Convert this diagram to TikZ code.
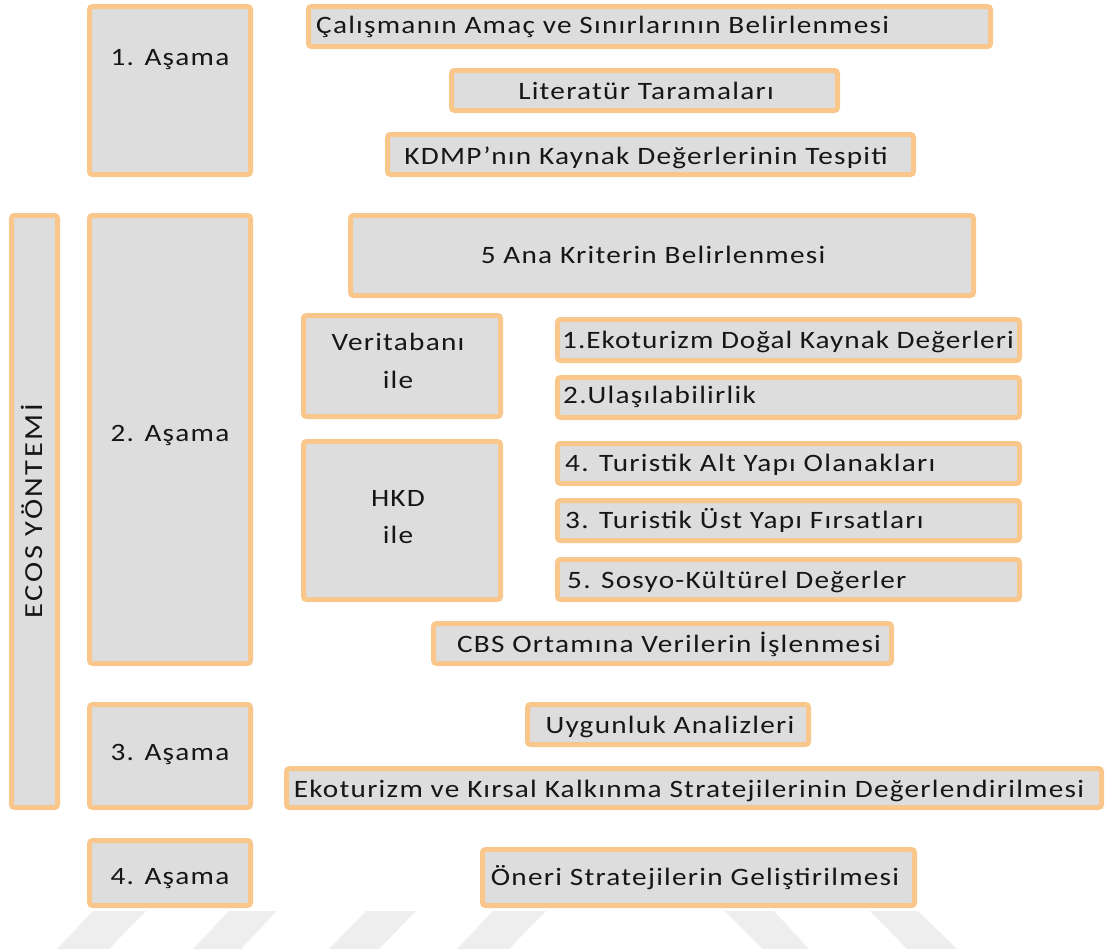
\documentclass[tikz,border=0pt]{standalone}
\usepackage{fontspec}
\setmainfont{Carlito}[FakeStretch=1.17, LetterSpace=5]
\newfontfamily\ecosfont{Carlito}[FakeStretch=1.17, LetterSpace=10]
\newfontfamily\tightfont{Carlito}[FakeStretch=1.17, LetterSpace=4]
\usetikzlibrary{fit}
\definecolor{bord}{RGB}{249,199,140}
\definecolor{boxfill}{RGB}{221,221,221}
\definecolor{wm}{RGB}{238,238,238}
\definecolor{ink}{RGB}{22,22,22}
\tikzset{
  box/.style={draw=bord, fill=boxfill, line width=5pt, rounded corners=3pt},
  txt/.style={inner sep=0pt, text=ink, font=\fontsize{25}{29}\selectfont},
  wmark/.style={fill=wm, draw=none}
}
\newcommand\bx[5]{\node[box, fit={(#2,#3)(#4,#5)}, inner sep=-2.5pt] (#1) {};}
\begin{document}
\begin{tikzpicture}[x=1pt,y=-1pt]
\useasboundingbox (0,0) rectangle (1105,951);
% watermark
\fill[wmark] (57,949) -- (109,949) -- (146,911) -- (93,911) -- cycle;
\fill[wmark] (193,949) -- (241,949) -- (277,911) -- (229,911) -- cycle;
\fill[wmark] (329,949) -- (379,949) -- (416,911) -- (366,911) -- cycle;
\fill[wmark] (457,949) -- (509,949) -- (546,911) -- (493,911) -- cycle;
\fill[wmark] (725,911) -- (774,911) -- (809,949) -- (763,949) -- cycle;
\fill[wmark] (870,911) -- (918,911) -- (957,949) -- (907,949) -- cycle;
% boxes
\bx{a1}{87}{4}{253}{177}
\bx{c1}{306}{4}{993}{49}
\bx{c2}{449}{68}{840}{113}
\bx{c3}{385}{132}{916}{177}
\bx{ecos}{9}{213}{60}{810}
\bx{a2}{87}{213}{253}{666}
\bx{k}{348}{213}{976}{298}
\bx{vt}{301}{313}{503}{419}
\bx{hkd}{301}{439}{503}{602}
\bx{k1}{555}{317}{1022}{363}
\bx{k2}{555}{375}{1022}{420}
\bx{k4}{555}{441}{1022}{486}
\bx{k3}{555}{498}{1022}{543}
\bx{k5}{555}{557}{1022}{602}
\bx{cbs}{431}{621}{894}{666}
\bx{a3}{87}{702}{253}{810}
\bx{uy}{525}{702}{811}{747}
\bx{ek}{284}{766}{1104}{810}
\bx{a4}{87}{838}{253}{908}
\bx{on}{480}{847}{917}{908}
% texts
\node[txt, anchor=base] (ta1) at (170,65) {1. Aşama};
\node[txt, anchor=base west] (tc1) at (316,33) {Çalışmanın Amaç ve Sınırlarının Belirlenmesi};
\node[txt, anchor=base] (tc2) at (646,99) {Literatür Taramaları};
\node[txt, anchor=base] (tc3) at (646,164) {KDMP’nın Kaynak Değerlerinin Tespiti};
\node[txt, anchor=base, rotate=90, font=\fontsize{26}{30}\ecosfont] (tecos) at (42,511) {ECOS YÖNTEMİ};
\node[txt, anchor=base] (ta2) at (170,441) {2. Aşama};
\node[txt, anchor=base] (tk) at (653,263) {5 Ana Kriterin Belirlenmesi};
\node[txt, anchor=base] (tvt1) at (398,350) {Veritabanı};
\node[txt, anchor=base] (tvt2) at (398,388) {ile};
\node[txt, anchor=base] (th1) at (398,506) {HKD};
\node[txt, anchor=base] (th2) at (398,543) {ile};
\node[txt, anchor=base west, font=\fontsize{25}{29}\tightfont] (tk1) at (562,348) {1.Ekoturizm Doğal Kaynak Değerleri};
\node[txt, anchor=base west] (tk2) at (563,403) {2.Ulaşılabilirlik};
\node[txt, anchor=base west] (tk4) at (565,471) {4. Turistik Alt Yapı Olanakları};
\node[txt, anchor=base west] (tk3) at (565,528) {3. Turistik Üst Yapı Fırsatları};
\node[txt, anchor=base west] (tk5) at (567,588) {5. Sosyo-Kültürel Değerler};
\node[txt, anchor=base] (tcbs) at (669,652) {CBS Ortamına Verilerin İşlenmesi};
\node[txt, anchor=base] (ta3) at (170,760) {3. Aşama};
\node[txt, anchor=base] (tuy) at (670,733) {Uygunluk Analizleri};
\node[txt, anchor=base] (tek) at (689,797) {Ekoturizm ve Kırsal Kalkınma Stratejilerinin Değerlendirilmesi};
\node[txt, anchor=base] (ta4) at (170,884) {4. Aşama};
\node[txt, anchor=base] (ton) at (695,885) {Öneri Stratejilerin Geliştirilmesi};
\end{tikzpicture}
\end{document}
